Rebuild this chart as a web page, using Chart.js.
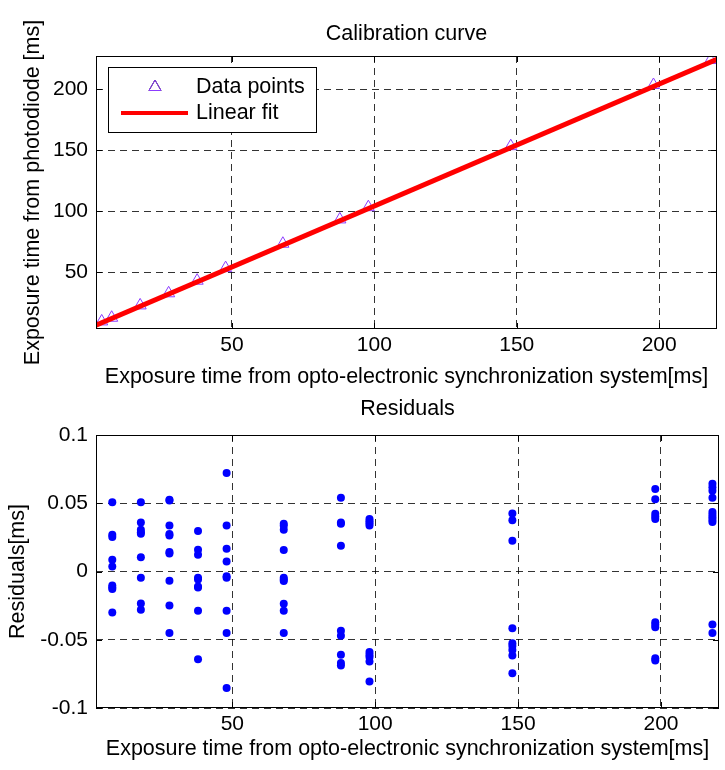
<!DOCTYPE html>
<html>
<head>
<meta charset="utf-8">
<script src="https://cdn.jsdelivr.net/npm/chart.js@4.4.1/dist/chart.umd.min.js"></script>
<style>
    html, body { margin: 0; padding: 0; background: #fff; }
    #wrap { position: relative; width: 725px; height: 770px; }
    canvas { position: absolute; left: 0; }
</style>
</head>
<body>
<div id="wrap">
    <canvas id="calChart" width="725" height="395" style="top:0"></canvas>
    <canvas id="resChart" width="725" height="375" style="top:395px"></canvas>
</div>
<script>
// calibration data
const optoTimes = [4.3, 7.8, 17.8, 27.8, 37.8, 47.8, 67.9, 87.9, 97.9, 147.9, 198.0, 218.0];
const photoTimes = [10.0, 13.0, 23.1, 33.0, 43.3, 53.6, 73.5, 93.4, 103.4, 153.3, 203.3, 223.7];
const fitX = [2.3, 220.3];
const fitY = [6.9, 224.4];

// residuals, one column of repeated measurements per exposure setting
const residualX = [8, 18, 28, 38, 48, 68, 88, 98, 148, 198, 218];
const residualY = [
    [0.0508, 0.0269, 0.0252, 0.0086, 0.0037, -0.0102, -0.0117, -0.0129, -0.0300],
    [0.0508, 0.0359, 0.0305, 0.0288, 0.0276, 0.0105, -0.0046, -0.0234, -0.0281],
    [0.0525, 0.0520, 0.0337, 0.0274, 0.0264, 0.0142, 0.0132, -0.0068, -0.0249, -0.0451],
    [0.0296, 0.0159, 0.0122, -0.0046, -0.0059, -0.0110, -0.0117, -0.0288, -0.0642],
    [0.0721, 0.0337, 0.0166, 0.0073, -0.0034, -0.0046, -0.0288, -0.0451, -0.0854],
    [0.0349, 0.0335, 0.0305, 0.0157, -0.0046, -0.0059, -0.0070, -0.0237, -0.0288, -0.0451],
    [0.0540, 0.0359, 0.0349, 0.0188, -0.0434, -0.0471, -0.0610, -0.0671, -0.0689],
    [0.0384, 0.0369, 0.0354, 0.0337, -0.0590, -0.0610, -0.0627, -0.0659, -0.0806],
    [0.0425, 0.0375, 0.0225, -0.0415, -0.0525, -0.0545, -0.0575, -0.0615, -0.0745],
    [0.0604, 0.0530, 0.0423, 0.0403, 0.0384, -0.0371, -0.0390, -0.0408, -0.0635, -0.0652],
    [0.0642, 0.0618, 0.0591, 0.0540, 0.0435, 0.0415, 0.0398, 0.0379, 0.0362, -0.0388, -0.0451]
];

// ticks
const xTicks = [50, 100, 150, 200];
const calYTicks = [50, 100, 150, 200];
const resYTicks = [-0.1, -0.05, 0, 0.05, 0.1];
const resYLabels = ["-0.1", "-0.05", "0", "0.05", "0.1"];

const xRange = [2.3, 220.3];
const calYRange = [3.8, 227];
const resYRange = [-0.1, 0.1];

const FONT = "'Liberation Sans', Arial, sans-serif";
const TICK_FS = 21;
const LABEL_FS = 21.5;
Chart.defaults.font.family = FONT;
Chart.defaults.font.size = TICK_FS;
Chart.defaults.color = "#000";

// axes title centred over the plot area, like MATLAB does
const axesTitle = {
    id: "axesTitle",
    afterDraw(chart, args, opts) {
        const { ctx, chartArea: a } = chart;
        ctx.save();
        ctx.fillStyle = "#000";
        ctx.font = LABEL_FS + "px " + FONT;
        ctx.textAlign = "center";
        ctx.textBaseline = "middle";
        ctx.fillText(opts.text, (a.left + a.right) / 2, opts.y);
        ctx.restore();
    }
};

// box round the plot area plus inward ticks
const axesBox = {
    id: "axesBox",
    afterDatasetsDraw(chart) {
        const { ctx, chartArea: a, scales } = chart;
        ctx.save();
        ctx.setLineDash([]);
        ctx.strokeStyle = "#000";
        ctx.lineWidth = 1;
        ctx.strokeRect(a.left + 0.5, a.top + 0.5, a.right - a.left - 1, a.bottom - a.top - 1);
        ctx.beginPath();
        scales.x.ticks.forEach(t => {
            const px = Math.round(scales.x.getPixelForValue(t.value)) + 0.5;
            ctx.moveTo(px, a.bottom); ctx.lineTo(px, a.bottom - 6);
            ctx.moveTo(px, a.top); ctx.lineTo(px, a.top + 6);
        });
        scales.y.ticks.forEach(t => {
            const py = Math.round(scales.y.getPixelForValue(t.value)) + 0.5;
            ctx.moveTo(a.left, py); ctx.lineTo(a.left + 6, py);
            ctx.moveTo(a.right, py); ctx.lineTo(a.right - 6, py);
        });
        ctx.stroke();
        ctx.restore();
    }
};

// legend box inside the axes, upper left
const insetLegend = {
    id: "insetLegend",
    afterDraw(chart) {
        const ctx = chart.ctx;
        const a = chart.chartArea;
        const ds = chart.data.datasets;
        const x0 = a.left + 12, y0 = a.top + 11, w = 208, h = 65;
        ctx.save();
        ctx.fillStyle = "#fff";
        ctx.fillRect(x0, y0, w, h);
        ctx.strokeStyle = "#000";
        ctx.lineWidth = 1;
        ctx.setLineDash([]);
        ctx.strokeRect(x0 + 0.5, y0 + 0.5, w, h);

        const row1 = y0 + 20, row2 = y0 + 46;
        Chart.helpers.drawPoint(ctx, {
            pointStyle: "triangle", radius: ds[0].pointRadius,
            borderWidth: ds[0].borderWidth, rotation: 0
        }, x0 + 47, row1);
        ctx.strokeStyle = ds[0].borderColor;
        ctx.lineWidth = ds[0].borderWidth;
        ctx.stroke();

        ctx.beginPath();
        ctx.strokeStyle = ds[1].borderColor;
        ctx.lineWidth = 4;
        ctx.moveTo(x0 + 13, row2);
        ctx.lineTo(x0 + 80, row2);
        ctx.stroke();

        ctx.fillStyle = "#000";
        ctx.font = LABEL_FS + "px " + FONT;
        ctx.textBaseline = "middle";
        ctx.fillText(ds[0].label, x0 + 88, row1);
        ctx.fillText(ds[1].label, x0 + 88, row2);
        ctx.restore();
    }
};

function gridOpts() {
    return { color: "rgba(0,0,0,0.8)", lineWidth: 1, drawTicks: false };
}

function xAxis(height, titlePadBottom) {
    return {
        type: "linear",
        min: xRange[0],
        max: xRange[1],
        afterBuildTicks: s => { s.ticks = xTicks.map(v => ({ value: v })); },
        afterFit: s => { s.height = height; },
        ticks: { padding: 4, maxRotation: 0, autoSkip: false },
        grid: gridOpts(),
        border: { display: false, dash: [7, 5] },
        title: {
            display: true,
            text: "Exposure time from opto-electronic synchronization system[ms]",
            font: { size: LABEL_FS },
            padding: { top: 0, bottom: titlePadBottom }
        }
    };
}

const calPoints = optoTimes.map((x, i) => ({ x: x, y: photoTimes[i] }));
const fitPoints = fitX.map((x, i) => ({ x: x, y: fitY[i] }));

new Chart(document.getElementById("calChart"), {
    type: "scatter",
    data: {
        datasets: [
            {
                label: "Data points",
                data: calPoints,
                pointStyle: "triangle",
                pointRadius: 7,
                borderWidth: 1,
                borderColor: "rgb(140,60,255)",
                backgroundColor: "rgba(0,0,0,0)",
                order: 1
            },
            {
                label: "Linear fit",
                data: fitPoints,
                showLine: true,
                pointRadius: 0,
                borderWidth: 5,
                borderColor: "#ff0000",
                order: 0
            }
        ]
    },
    options: {
        responsive: false,
        animation: false,
        devicePixelRatio: 1,
        layout: { padding: { left: 0, right: 6, top: 56, bottom: 0 } },
        plugins: {
            legend: { display: false },
            tooltip: { enabled: false },
            title: { display: false },
            axesTitle: { text: "Calibration curve", y: 34 }
        },
        scales: {
            x: xAxis(66, 5),
            y: {
                type: "linear",
                min: calYRange[0],
                max: calYRange[1],
                afterBuildTicks: s => { s.ticks = calYTicks.map(v => ({ value: v })); },
                afterFit: s => { s.width = 96; },
                ticks: { padding: 8 },
                grid: gridOpts(),
                border: { display: false, dash: [7, 5] },
                title: {
                    display: true,
                    text: "Exposure time from photodiode [ms]",
                    font: { size: LABEL_FS },
                    padding: { top: 20, bottom: 0 }
                }
            }
        }
    },
    plugins: [axesBox, insetLegend, axesTitle]
});

const resPoints = [];
residualX.forEach((x, i) => {
    residualY[i].forEach(v => resPoints.push({ x: x, y: v }));
});

new Chart(document.getElementById("resChart"), {
    type: "scatter",
    data: {
        datasets: [
            {
                label: "Residuals",
                data: resPoints,
                pointStyle: "circle",
                pointRadius: 4,
                borderWidth: 0,
                backgroundColor: "#0000ff",
                borderColor: "#0000ff"
            }
        ]
    },
    options: {
        responsive: false,
        animation: false,
        devicePixelRatio: 1,
        layout: { padding: { left: 0, right: 6, top: 40, bottom: 0 } },
        plugins: {
            legend: { display: false },
            tooltip: { enabled: false },
            title: { display: false },
            axesTitle: { text: "Residuals", y: 14 }
        },
        scales: {
            x: xAxis(62, 8),
            y: {
                type: "linear",
                min: resYRange[0],
                max: resYRange[1],
                afterBuildTicks: s => { s.ticks = resYTicks.map(v => ({ value: v })); },
                afterFit: s => { s.width = 96; },
                ticks: {
                    padding: 8,
                    callback: v => resYLabels[resYTicks.indexOf(v)]
                },
                grid: gridOpts(),
                border: { display: false, dash: [7, 5] },
                title: {
                    display: true,
                    text: "Residuals[ms]",
                    font: { size: LABEL_FS },
                    padding: { top: 5, bottom: 0 }
                }
            }
        }
    },
    plugins: [axesBox, axesTitle]
});
</script>
</body>
</html>
